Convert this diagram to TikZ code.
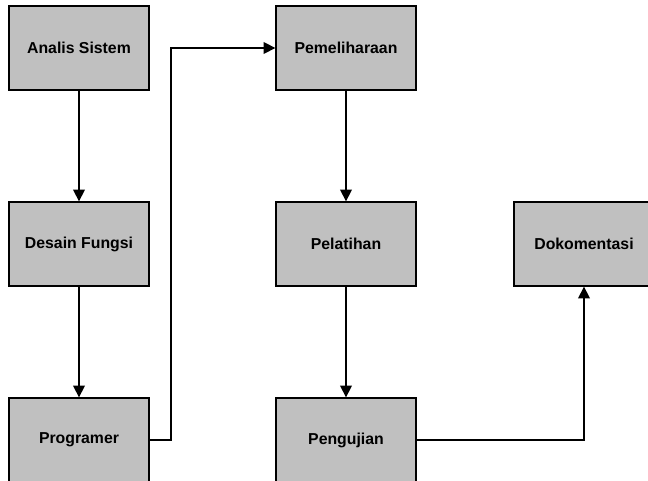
\documentclass[tikz,border=0pt]{standalone}
\usepackage{fontspec}
\setmainfont{Liberation Sans}
\usepackage{xcolor}
\usetikzlibrary{arrows.meta,positioning}
\definecolor{boxgray}{RGB}{192,192,192}
\tikzset{
	tahap/.style={draw, line width=1.1pt, fill=boxgray, minimum width=4.2cm, minimum height=2.52cm, inner sep=0pt, font=\fontsize{13.5}{15}\selectfont\bfseries},
	panah/.style={line width=1.1pt, -{Triangle[length=10pt,width=10pt]}}
}
\begin{document}
\begin{tikzpicture}
	\useasboundingbox (0,0) rectangle (19.44,14.4);
	% kolom kiri
	\node [tahap] (analis) at (2.37,12.96) {Analis Sistem};
	\node [tahap] (desain) at (2.37,7.08) {Desain Fungsi};
	\node [tahap] (program) at (2.37,1.2) {Programer};
	% kolom tengah
	\node [tahap] (pelihara) at (10.38,12.96) {Pemeliharaan};
	\node [tahap] (latih) at (10.38,7.08) {Pelatihan};
	\node [tahap] (uji) at (10.38,1.2) {Pengujian};
	% kolom kanan
	\node [tahap] (dokumen) at (17.52,7.08) {Dokomentasi};
	\coordinate (belok1) at (5.13,1.2);
	\coordinate (belok2) at (5.13,12.96);
	\coordinate (belok3) at (17.52,1.2);
	\draw [panah] (analis) -- (desain);
	\draw [panah] (desain) -- (program);
	\draw [panah] (program.east) -- (belok1) -- (belok2) -- (pelihara.west);
	\draw [panah] (pelihara) -- (latih);
	\draw [panah] (latih) -- (uji);
	\draw [panah] (uji.east) -- (belok3) -- (dokumen.south);
\end{tikzpicture}
\end{document}
